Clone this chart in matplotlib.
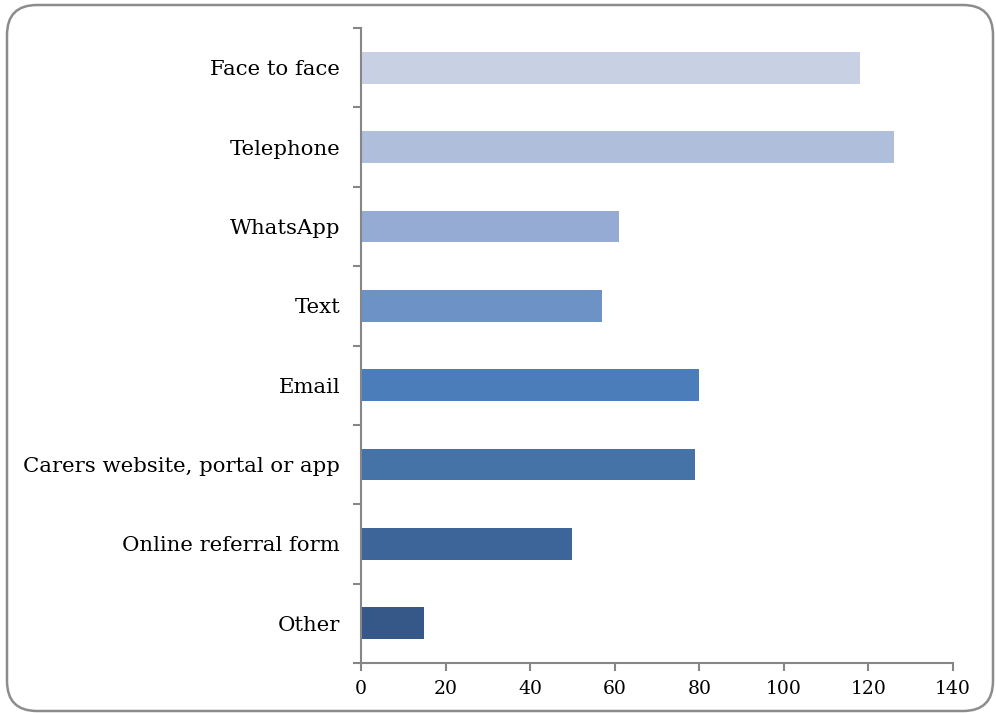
import matplotlib.pyplot as plt
from matplotlib.patches import FancyBboxPatch
from matplotlib.transforms import IdentityTransform

# Contact methods, listed top to bottom
methods = ["Face to face", "Telephone", "WhatsApp", "Text", "Email",
           "Carers website, portal or app", "Online referral form", "Other"]
counts = [118, 126, 61, 57, 80, 79, 50, 15]
bar_colors = ["#C8D1E4", "#AFBEDB", "#95ABD3", "#6D93C6",
              "#4A7DBA", "#4572A7", "#3E6599", "#355888"]
x_ticks = [0, 20, 40, 60, 80, 100, 120, 140]

W, H = 996, 713
fig = plt.figure(figsize=(W / 100, H / 100), dpi=100)
plt.rcParams['font.family'] = ['DejaVu Serif']

# rounded chart border, in pixel units
frame = FancyBboxPatch((7, 2), 986, 706,
                       boxstyle="round,pad=0,rounding_size=30",
                       transform=IdentityTransform(), facecolor="white",
                       edgecolor="#8C8C8C", linewidth=1.8, zorder=-10)
fig.add_artist(frame)

ax = fig.add_axes([361 / W, (H - 663) / H, (953 - 361) / W, (663 - 28) / H])
ax.set_facecolor("none")

pos = list(range(len(methods)))
ax.barh(pos, counts, height=0.4, color=bar_colors)

ax.set_xlim(0, 140)
ax.set_ylim(len(methods) - 0.5, -0.5)
ax.set_xticks(x_ticks)
ax.set_xticklabels([str(t) for t in x_ticks], fontsize=13.5)

# category labels sit between the tick marks
ax.set_yticks([p - 0.5 for p in pos] + [len(methods) - 0.5])
ax.set_yticklabels([])
ax.set_yticks(pos, minor=True)
ax.set_yticklabels(methods, minor=True, fontsize=15.3)
ax.tick_params(axis="y", which="minor", length=0, pad=15)
ax.tick_params(axis="y", which="major", length=6, width=1.5, color="#868686")
ax.tick_params(axis="x", length=6, width=1.5, color="#868686", pad=6)

for side in ["top", "right"]:
    ax.spines[side].set_visible(False)
for side in ["left", "bottom"]:
    ax.spines[side].set_color("#868686")
    ax.spines[side].set_linewidth(1.5)

fig.savefig("out.png", dpi=100)
